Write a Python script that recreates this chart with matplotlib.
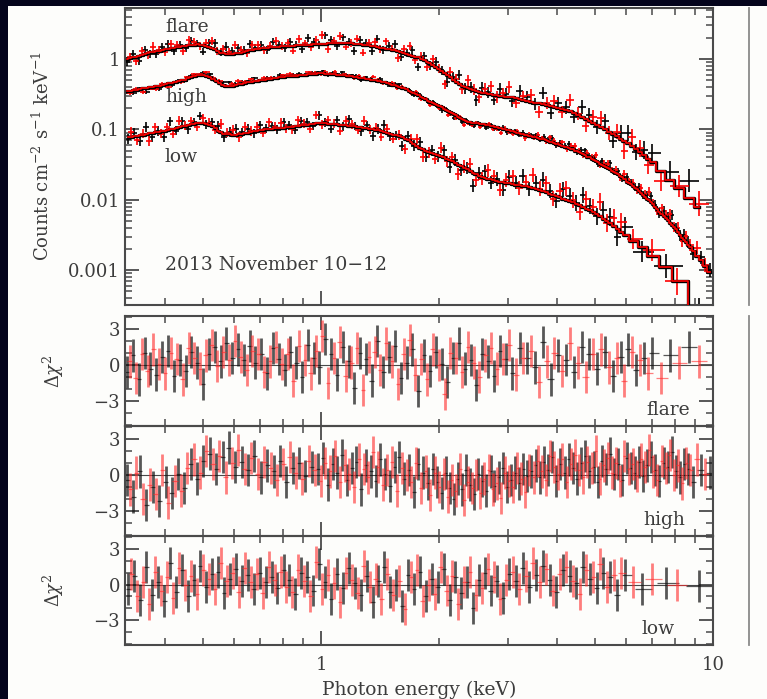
import numpy as np
import matplotlib.pyplot as plt
from matplotlib.ticker import MultipleLocator, LogLocator, NullFormatter, FuncFormatter
from matplotlib.lines import Line2D
from matplotlib.patches import Rectangle

plt.rcParams['font.family'] = ['DejaVu Serif']
plt.rcParams['mathtext.fontset'] = 'dejavuserif'

# ---- data (energy keV, model counts/cm2/s/keV, delta-chi) ----
flare_energy = [0.320, 0.331, 0.343, 0.355, 0.367, 0.380, 0.393, 0.407, 0.421, 0.436,
                0.451, 0.467, 0.483, 0.500, 0.517, 0.535, 0.554, 0.573, 0.593, 0.614,
                0.635, 0.657, 0.680, 0.704, 0.728, 0.754, 0.780,
                0.807, 0.835, 0.864, 0.894, 0.925, 0.957, 0.99, 1.025, 1.06, 1.097,
                1.135, 1.175, 1.215, 1.258, 1.301, 1.347, 1.393, 1.442, 1.492, 1.544,
                1.598, 1.653, 1.711, 1.770, 1.832, 1.895, 1.961, 2.03, 2.10, 2.17,
                2.25, 2.33, 2.41, 2.49, 2.58, 2.67, 2.76, 2.86, 2.96,
                3.07, 3.21, 3.36, 3.52, 3.68, 3.85, 4.03, 4.22, 4.42, 4.62,
                4.84, 5.06, 5.30, 5.55, 5.81, 6.08, 6.37, 6.67, 7.0, 7.35,
                7.75, 8.2, 8.7, 9.2]
flare_model = [1.00, 1.05, 1.11, 1.18, 1.24, 1.29, 1.34, 1.39, 1.44, 1.49,
               1.54, 1.59, 1.62, 1.56, 1.49, 1.38, 1.22, 1.18, 1.19, 1.21,
               1.26, 1.32, 1.38, 1.43, 1.45, 1.48, 1.50,
               1.52, 1.54, 1.56, 1.58, 1.59, 1.61, 1.63, 1.65, 1.68, 1.70,
               1.68, 1.67, 1.65, 1.63, 1.58, 1.53, 1.48, 1.43, 1.38, 1.33,
               1.25, 1.18, 1.11, 1.05, 0.97, 0.87, 0.77, 0.68, 0.59, 0.51,
               0.44, 0.40, 0.37, 0.35, 0.33, 0.32, 0.31, 0.30, 0.293,
               0.286, 0.27, 0.255, 0.24, 0.228, 0.215, 0.203, 0.19, 0.17, 0.15,
               0.133, 0.115, 0.100, 0.086, 0.074, 0.064, 0.053, 0.043, 0.034, 0.026,
               0.019, 0.0145, 0.0105, 0.0078]
flare_resid = [-0.6, 0.8, -1.2, 1.0, -0.3, -0.8, 0.7, 1.2, -0.9, 0.4,
               -0.5, 1.1, 0.2, -1.6, 0.9, 1.5, 0.3, 1.8, 0.6, 1.3,
               0.4, 1.6, 0.2, 0.9, -0.7, 1.4, 0.5,
               -0.4, 1.1, 0.2, -1.0, 1.7, 0.6, -0.2, 2.2, 0.9, -0.8,
               1.5, 0.3, -1.9, 1.0, 0.5, -1.3, 2.0, -0.6, 0.7, 1.6,
               -1.1, 0.2, 1.3, -2.2, 0.8, -0.5, 1.1, 0.1, -1.4, 0.6,
               1.8, -0.3, 0.4, -1.7, 0.9, 0.3, -0.9, 1.2, 0.5,
               -0.7, 1.4, 0.6, -0.2, 1.9, -1.2, 0.8, 0.4, -0.6, 1.5,
               0.9, -0.3, 1.1, -0.9, 0.7, 1.3, -0.4, 0.6, 1.0, -1.1,
               0.8, 0.2, 1.5, 0.3]
# bins lying between the ones above
flare_energy_mid = [0.325, 0.337, 0.349, 0.361, 0.373, 0.386, 0.400, 0.414, 0.428, 0.443,
                    0.459, 0.475, 0.491, 0.508, 0.526, 0.544, 0.563, 0.583, 0.603, 0.624,
                    0.646, 0.668, 0.692, 0.716, 0.741, 0.767, 0.793,
                    0.821, 0.849, 0.879, 0.909, 0.941, 0.973, 1.007, 1.042, 1.078, 1.116,
                    1.155, 1.195, 1.236, 1.279, 1.324, 1.370, 1.417, 1.467, 1.518, 1.571,
                    1.625, 1.682, 1.740, 1.801, 1.863, 1.928, 1.995, 2.065, 2.135, 2.21,
                    2.29, 2.37, 2.45, 2.535, 2.625, 2.715, 2.81, 2.91, 3.01,
                    3.14, 3.28, 3.44, 3.60, 3.76, 3.94, 4.12, 4.32, 4.52, 4.73,
                    4.95, 5.18, 5.42, 5.68, 5.94, 6.22, 6.52, 6.83]
flare_model_mid = [1.025, 1.08, 1.145, 1.21, 1.265, 1.315, 1.365, 1.415, 1.465, 1.515,
                   1.565, 1.605, 1.59, 1.525, 1.435, 1.30, 1.20, 1.185, 1.20, 1.235,
                   1.29, 1.35, 1.405, 1.44, 1.465, 1.49, 1.51,
                   1.53, 1.55, 1.57, 1.585, 1.60, 1.62, 1.64, 1.665, 1.69, 1.69,
                   1.675, 1.66, 1.64, 1.605, 1.555, 1.505, 1.455, 1.405, 1.355, 1.29,
                   1.215, 1.145, 1.08, 1.01, 0.92, 0.82, 0.725, 0.635, 0.55, 0.475,
                   0.42, 0.385, 0.36, 0.34, 0.325, 0.315, 0.305, 0.297, 0.29,
                   0.278, 0.262, 0.247, 0.234, 0.221, 0.209, 0.197, 0.18, 0.16, 0.141,
                   0.124, 0.107, 0.093, 0.080, 0.069, 0.058, 0.048, 0.038]
flare_resid_mid = [0.3, -1.1, 0.9, -0.5, 1.3, 0.1, -0.7, 1.0, 0.5, -1.2,
                   1.4, 0.6, -0.3, 0.8, 1.7, -0.1, 1.1, 0.4, 2.0, 0.7,
                   -0.4, 1.2, 0.9, -0.6, 0.3, 1.5, 0.1,
                   0.9, -1.3, 1.6, 0.4, -0.7, 1.2, 2.4, -1.5, 0.6, 1.9,
                   -0.9, 0.2, 1.4, -2.1, 0.7, 1.1, -0.4, 1.8, 0.3, -1.6,
                   0.9, 2.1, -0.8, 0.5, -1.2, 1.3, 0.0, -2.4, 1.0, 0.6,
                   -0.6, 1.5, 0.2, -1.0, 0.8, 1.4, -0.3, 0.5, 1.7,
                   -0.8, 0.6, 1.2, -1.4, 0.3, 1.0, -0.5, 1.8, 0.2, -1.0,
                   0.9, 1.3, -0.2, 0.6, -1.3, 1.1, 0.4, -0.7]

high_energy = [0.320, 0.332, 0.345, 0.358, 0.372, 0.386, 0.401, 0.416, 0.432, 0.448,
               0.465, 0.483, 0.501, 0.520, 0.540, 0.561, 0.582, 0.604, 0.627, 0.651,
               0.676, 0.702, 0.729, 0.757, 0.786, 0.816, 0.847, 0.879, 0.912, 0.947,
               0.983, 1.011, 1.040, 1.070, 1.100, 1.132, 1.164, 1.197, 1.231, 1.266,
               1.302, 1.339, 1.377, 1.416, 1.456, 1.498, 1.540, 1.584, 1.629, 1.675,
               1.723, 1.772, 1.822, 1.874, 1.927,
               1.98, 2.03, 2.08, 2.13, 2.18, 2.23, 2.29, 2.34, 2.40, 2.46,
               2.52, 2.58, 2.64, 2.71, 2.77, 2.84, 2.91, 2.98, 3.05, 3.13,
               3.20, 3.28, 3.36, 3.44, 3.53, 3.61, 3.70, 3.79, 3.89, 3.98,
               4.08, 4.18, 4.28, 4.39, 4.50, 4.61, 4.72, 4.84, 4.96, 5.08,
               5.20, 5.33, 5.46, 5.59, 5.73, 5.87, 6.02, 6.16, 6.31, 6.47,
               6.63, 6.79, 6.96, 7.13, 7.30, 7.48, 7.67, 7.85, 8.05, 8.24,
               8.45, 8.65, 8.87, 9.30, 9.80]
high_model = [0.35, 0.36, 0.375, 0.39, 0.40, 0.42, 0.44, 0.46, 0.485, 0.51,
              0.55, 0.59, 0.60, 0.555, 0.48, 0.43, 0.41, 0.425, 0.445, 0.47,
              0.485, 0.50, 0.515, 0.535, 0.555, 0.565, 0.575, 0.59, 0.60, 0.615,
              0.63, 0.625, 0.615, 0.605, 0.60, 0.59, 0.58, 0.565, 0.55, 0.535,
              0.525, 0.51, 0.50, 0.485, 0.465, 0.44, 0.425, 0.40, 0.385, 0.355,
              0.33, 0.305, 0.28, 0.255, 0.235,
              0.22, 0.205, 0.19, 0.177, 0.165, 0.152, 0.14, 0.131, 0.126, 0.125,
              0.123, 0.12, 0.117, 0.113, 0.109, 0.105, 0.101, 0.099, 0.096, 0.092,
              0.089, 0.086, 0.083, 0.080, 0.077, 0.074, 0.072, 0.069, 0.066, 0.063,
              0.060, 0.057, 0.055, 0.052, 0.049, 0.046, 0.043, 0.040, 0.037, 0.034,
              0.031, 0.029, 0.027, 0.025, 0.023, 0.021, 0.018, 0.0165, 0.0148, 0.0132,
              0.0118, 0.0104, 0.0092, 0.0080, 0.0068, 0.0059, 0.0051, 0.0044, 0.0038, 0.0032,
              0.0027, 0.0023, 0.0019, 0.0014, 0.00095]
high_resid = [-0.4, -1.8, 0.3, -2.5, -1.0, -2.2, -0.6, -1.5, 0.1, -1.1,
              0.9, -0.3, 1.2, 1.8, 0.5, 1.5, 2.3, 0.7, 1.1, 0.4,
              1.6, -0.2, 0.8, 0.3, 1.2, -0.6, 0.6, 1.0, -0.1, 0.7,
              0.5, 1.4, -0.8, 0.9, 0.2, 1.7, -0.4, 0.6, 1.1, -1.2,
              0.8, 0.3, -0.5, 1.3, 0.1, -0.9, 0.7, 1.5, -0.3, 0.4,
              -1.4, 0.9, 0.2, -0.7, 0.5,
              -0.6, -1.5, 0.2, -1.1, -2.0, -0.3, -1.2, 0.4, -0.8, -1.6,
              0.1, -0.5, -1.3, 0.3, -0.9, -0.2, 0.6, -1.0, -0.4, 0.2,
              -0.7, 0.5, -0.1, 0.3, 0.8, -0.2, 1.1, 0.4, 1.5, -0.5,
              0.9, 0.2, 1.3, 0.6, -0.3, 1.0, 1.6, 0.3, 0.7, -0.6,
              1.2, 0.5, 1.8, 0.1, 0.9, -0.4, 1.4, 0.6, 0.2, 1.1,
              -0.1, 0.8, 1.5, 0.4, -0.5, 1.0, 0.7, 1.9, 0.3, -0.2,
              0.9, 0.5, -0.6, 0.4, 0.2]
high_energy_mid = [0.326, 0.338, 0.351, 0.365, 0.379, 0.393, 0.408, 0.424, 0.440, 0.456,
                   0.474, 0.492, 0.510, 0.530, 0.550, 0.571, 0.593, 0.615, 0.639, 0.663,
                   0.689, 0.715, 0.743, 0.771, 0.801, 0.831, 0.863, 0.895, 0.929, 0.965,
                   0.997, 1.025, 1.055, 1.085, 1.116, 1.148, 1.180, 1.214, 1.248, 1.284,
                   1.320, 1.358, 1.396, 1.436, 1.477, 1.519, 1.562, 1.606, 1.652, 1.699,
                   1.747, 1.797, 1.848, 1.900, 1.953,
                   2.005, 2.055, 2.105, 2.155, 2.205, 2.26, 2.315, 2.37, 2.43, 2.49,
                   2.55, 2.61, 2.675, 2.74, 2.805, 2.875, 2.945, 3.015, 3.09, 3.165,
                   3.24, 3.32, 3.40, 3.485, 3.57, 3.655, 3.745, 3.84, 3.935, 4.03,
                   4.13, 4.23, 4.335, 4.445, 4.555, 4.665, 4.78, 4.90, 5.02, 5.14,
                   5.265, 5.395, 5.525, 5.66, 5.80, 5.945, 6.09, 6.235, 6.39, 6.55,
                   6.71, 6.875, 7.045, 7.215, 7.39, 7.575, 7.76, 7.95, 8.145, 8.345,
                   8.55, 8.76, 9.08, 9.55]
high_model_mid = [0.355, 0.368, 0.383, 0.395, 0.41, 0.43, 0.45, 0.472, 0.497, 0.53,
                  0.57, 0.60, 0.58, 0.515, 0.452, 0.418, 0.417, 0.435, 0.457, 0.478,
                  0.492, 0.507, 0.525, 0.545, 0.56, 0.57, 0.582, 0.595, 0.607, 0.622,
                  0.628, 0.62, 0.61, 0.602, 0.595, 0.585, 0.572, 0.557, 0.542, 0.53,
                  0.517, 0.505, 0.492, 0.475, 0.452, 0.432, 0.412, 0.392, 0.37, 0.342,
                  0.317, 0.292, 0.267, 0.245, 0.227,
                  0.212, 0.197, 0.183, 0.171, 0.158, 0.146, 0.135, 0.128, 0.125, 0.124,
                  0.121, 0.118, 0.115, 0.111, 0.107, 0.103, 0.100, 0.097, 0.094, 0.090,
                  0.087, 0.084, 0.081, 0.078, 0.075, 0.073, 0.070, 0.067, 0.064, 0.061,
                  0.058, 0.056, 0.053, 0.050, 0.047, 0.044, 0.041, 0.038, 0.035, 0.032,
                  0.030, 0.028, 0.026, 0.024, 0.022, 0.0195, 0.0172, 0.0156, 0.014, 0.0125,
                  0.0111, 0.0098, 0.0086, 0.0074, 0.0063, 0.0055, 0.0047, 0.0041, 0.0035, 0.0029,
                  0.0025, 0.0021, 0.0016, 0.00115]
high_resid_mid = [-1.2, 0.2, -2.0, -0.8, -1.6, 0.4, -2.3, -0.5, -1.3, 0.6,
                  1.3, 0.2, 2.0, 0.9, 1.6, -0.2, 1.0, 2.1, 0.5, 1.4,
                  0.1, 1.1, 0.6, -0.4, 0.9, 1.5, 0.2, -0.3, 1.2, 0.4,
                  -0.5, 1.0, 0.3, 1.6, -0.6, 0.8, 0.1, -1.0, 1.3, 0.5,
                  -0.2, 1.9, 0.7, -0.8, 0.4, 1.1, -1.3, 0.6, 0.0, -0.6,
                  1.0, -1.1, 0.3, -1.7, 0.2,
                  -1.0, 0.1, -1.8, -0.4, -1.3, 0.5, -2.1, -0.6, -1.1, 0.0,
                  -1.5, -0.3, 0.4, -1.2, -0.7, -1.9, 0.2, -0.5, -1.0, 0.6,
                  -0.3, -1.4, 0.4, -0.2, 1.2, 0.3, -0.4, 1.6, 0.7, 0.1,
                  1.3, -0.6, 0.9, 1.7, 0.4, -0.2, 1.1, 0.6, 2.0, -0.3,
                  0.8, 1.4, 0.2, 1.0, -0.5, 1.6, 0.5, 0.9, -0.1, 1.3,
                  0.7, 2.1, 0.3, -0.4, 1.2, 0.6, 1.7, 0.0, 0.8, -0.7,
                  1.0, 0.4, 1.3, 0.1]

low_energy = [0.322, 0.334, 0.346, 0.358, 0.371, 0.384, 0.398, 0.412, 0.427, 0.442,
              0.458, 0.474, 0.491, 0.509, 0.527, 0.546, 0.565, 0.585, 0.606, 0.628,
              0.650, 0.673, 0.697, 0.722, 0.748, 0.774, 0.802,
              0.830, 0.860, 0.890, 0.922, 0.955, 0.989, 1.024, 1.060, 1.098, 1.137,
              1.177, 1.219, 1.262, 1.307, 1.353, 1.401, 1.451, 1.502, 1.555, 1.610,
              1.667, 1.726, 1.787, 1.850, 1.916, 1.984, 2.054, 2.127, 2.20, 2.28,
              2.36, 2.44, 2.53, 2.62, 2.71, 2.81, 2.91,
              3.02, 3.14, 3.27, 3.40, 3.54, 3.68, 3.83, 3.98, 4.14, 4.31,
              4.48, 4.66, 4.85, 5.05, 5.25, 5.46, 5.70, 5.95, 6.25, 6.6,
              7.0, 7.6, 8.1, 9.2]
low_model = [0.078, 0.080, 0.083, 0.086, 0.089, 0.092, 0.096, 0.100, 0.105, 0.110,
             0.115, 0.120, 0.124, 0.120, 0.112, 0.096, 0.086, 0.085, 0.084, 0.087,
             0.090, 0.094, 0.098, 0.100, 0.102, 0.104, 0.106,
             0.108, 0.111, 0.114, 0.117, 0.120, 0.124, 0.122, 0.120, 0.118, 0.116,
             0.113, 0.110, 0.107, 0.104, 0.100, 0.097, 0.092, 0.087, 0.082, 0.077,
             0.071, 0.063, 0.055, 0.049, 0.046, 0.043, 0.040, 0.037, 0.033, 0.030,
             0.027, 0.024, 0.022, 0.0205, 0.0195, 0.0185, 0.0178,
             0.0172, 0.0164, 0.0158, 0.0151, 0.0142, 0.0133, 0.0121, 0.0112, 0.0104, 0.0096,
             0.0087, 0.0079, 0.0071, 0.0063, 0.0054, 0.0047, 0.0039, 0.0032, 0.0026, 0.0021,
             0.0016, 0.0011, 0.0007, 0.00025]
low_resid = [-0.4, 0.7, -1.3, 1.5, -0.9, 0.2, -1.4, 1.8, -0.6, 1.2,
             -1.0, 0.4, 1.6, -0.2, 0.9, 1.1, -0.7, 0.5, 1.3, 0.3,
             0.8, -0.4, 1.0, 0.2, 0.6, -0.3, 1.2,
             0.4, -0.8, 1.0, 0.6, -0.5, 1.7, 0.2, -1.2, 0.9, -0.3,
             1.4, 0.1, -0.9, 0.7, -1.5, 0.3, 1.5, -0.6, 0.0, -1.8,
             0.8, -0.4, 1.1, -1.0, 0.5, -0.2, 1.3, -1.3, 0.6, -0.7,
             0.2, -2.0, 0.4, 1.0, -0.5, 0.3, -1.1,
             0.9, 0.3, 1.4, -0.2, 0.8, 1.6, 0.4, -0.6, 1.2, 0.7,
             0.1, 1.5, 0.5, -0.3, 1.0, 0.6, -0.9, 0.8, 0.2, -0.4,
             0.5, 0.1, 0.0, -0.1]
low_energy_mid = [0.328, 0.340, 0.352, 0.364, 0.377, 0.391, 0.405, 0.419, 0.434, 0.450,
                  0.466, 0.482, 0.500, 0.518, 0.536, 0.555, 0.575, 0.595, 0.617, 0.639,
                  0.661, 0.685, 0.709, 0.735, 0.761, 0.788, 0.816,
                  0.845, 0.875, 0.906, 0.938, 0.972, 1.006, 1.042, 1.079, 1.117, 1.157,
                  1.198, 1.240, 1.284, 1.330, 1.377, 1.426, 1.476, 1.528, 1.582, 1.638,
                  1.696, 1.756, 1.818, 1.883, 1.950, 2.019, 2.090, 2.163, 2.24, 2.32,
                  2.40, 2.485, 2.575, 2.665, 2.76, 2.86, 2.965,
                  3.08, 3.205, 3.335, 3.47, 3.61, 3.755, 3.905, 4.06, 4.225, 4.395,
                  4.57, 4.755, 4.95, 5.15, 5.355, 5.58, 5.82]
low_model_mid = [0.079, 0.0815, 0.0845, 0.0875, 0.0905, 0.094, 0.098, 0.1025, 0.1075, 0.1125,
                 0.1175, 0.122, 0.122, 0.116, 0.104, 0.091, 0.0855, 0.0845, 0.0855, 0.0885,
                 0.092, 0.096, 0.099, 0.101, 0.103, 0.105, 0.107,
                 0.1095, 0.1125, 0.1155, 0.1185, 0.122, 0.123, 0.121, 0.119, 0.117, 0.1145,
                 0.1115, 0.1085, 0.1055, 0.102, 0.0985, 0.0945, 0.0895, 0.0845, 0.0795, 0.074,
                 0.067, 0.059, 0.052, 0.0475, 0.0445, 0.0415, 0.0385, 0.035, 0.0315, 0.0285,
                 0.0255, 0.023, 0.0212, 0.020, 0.019, 0.0181, 0.0175,
                 0.0168, 0.0161, 0.0155, 0.0147, 0.0138, 0.0127, 0.0117, 0.0108, 0.0100, 0.0092,
                 0.0083, 0.0075, 0.0067, 0.0058, 0.0050, 0.0043, 0.0035]
low_resid_mid = [0.9, -1.0, 0.2, -1.6, 1.1, -0.5, 0.6, -1.1, 1.4, 0.0,
                 0.7, -0.8, 1.2, 0.5, -0.4, 1.8, 0.3, 1.0, -0.6, 1.4,
                 0.2, 0.9, -0.7, 1.5, 0.4, 1.1, -0.2,
                 -0.6, 1.2, 0.3, -1.0, 1.9, -0.4, 0.8, 0.1, -1.5, 1.0,
                 0.4, -0.7, 1.6, -0.2, 0.5, -1.2, 0.9, -0.9, 0.3, -2.1,
                 0.6, 1.2, -1.4, 0.0, -0.8, 1.5, -0.5, 0.7, -1.6, 0.2,
                 1.1, -0.9, -0.3, 1.3, 0.6, -1.2, 0.4,
                 1.1, -0.4, 0.7, 1.8, 0.2, 1.3, -0.5, 0.9, 1.5, 0.3,
                 -0.8, 1.2, 0.6, 1.7, -0.2, 0.8, 1.0]

# fractional error of the spectral points at the first bin, per state
flare_err = 0.15
high_err = 0.06
low_err = 0.17

states = [('flare', flare_energy + flare_energy_mid, flare_model + flare_model_mid,
           flare_resid + flare_resid_mid, flare_err),
          ('high', high_energy + high_energy_mid, high_model + high_model_mid,
           high_resid + high_resid_mid, high_err),
          ('low', low_energy + low_energy_mid, low_model + low_model_mid,
           low_resid + low_resid_mid, low_err)]

W, H = 767, 699
fig = plt.figure(figsize=(W / 100, H / 100), dpi=100, facecolor='#04041c')
fig.patches.append(Rectangle((8 / W, 0), 1, 1 - 6 / H, transform=fig.transFigure,
                             facecolor='#fdfdfb', edgecolor='none', zorder=-10))


def box(top, bottom):
    return [125 / W, 1 - bottom / H, 588 / W, (bottom - top) / H]


ax0 = fig.add_axes(box(8, 305))
res_axes = [fig.add_axes(box(316, 426)), fig.add_axes(box(426, 536)), fig.add_axes(box(536, 645))]

gray = '#4a4a4a'


def half_widths(e):
    le = np.log10(e)
    mid = (le[1:] + le[:-1]) / 2
    lo = np.concatenate([[2 * le[0] - mid[0]], mid])
    hi = np.concatenate([mid, [2 * le[-1] - mid[-1]]])
    return e - 10 ** lo, 10 ** hi - e


def sorted_state(E, M, R):
    E, M, R = np.array(E), np.array(M), np.array(R)
    o = np.argsort(E)
    return E[o], M[o], R[o]


# the two instruments take alternate bins
inst = [(slice(0, None, 2), 'black', '#111111', 0.7), (slice(1, None, 2), 'red', '#ff2a2a', 0.6)]

for name, E, M, R, f0 in states:
    E, M, R = sorted_state(E, M, R)
    frac = np.minimum(f0 * (M / M[0]) ** -0.25, 0.8)
    D = M * (1 + frac) ** R
    for sl, col, _, _ in inst:
        e = E[sl]
        xl, xh = half_widths(e)
        d = D[sl]
        yl = d - d / (1 + frac[sl])
        yh = d * frac[sl]
        ax0.errorbar(e, d, xerr=[xl, xh], yerr=[yl, yh], fmt='none', ecolor=col,
                     elinewidth=1.2, capsize=0, zorder=2 if col == 'black' else 3)
    ax0.step(E, M, where='mid', color='black', lw=2.4, zorder=4)
    ax0.step(E, M, where='mid', color='red', lw=1.2, zorder=5)

for ax, (name, E, M, R, f0) in zip(res_axes, states):
    E, M, R = sorted_state(E, M, R)
    ax.axhline(0, color=gray, lw=0.8, zorder=1)
    for sl, _, col, a in inst:
        e = E[sl]
        xl, xh = half_widths(e)
        ax.errorbar(e, R[sl], yerr=1.35, fmt='none', ecolor=col,
                    elinewidth=2.0, capsize=0, alpha=a, zorder=2)
        ax.errorbar(e, R[sl], xerr=[xl * 0.8, xh * 0.8], fmt='none', ecolor=col,
                    elinewidth=0.9, capsize=0, alpha=a, zorder=2)
    ax.set_ylim(-5.1, 4.1)
    ax.yaxis.set_major_locator(MultipleLocator(3))
    ax.yaxis.set_minor_locator(MultipleLocator(1))

for ax in [ax0] + res_axes:
    ax.set_xscale('log')
    ax.set_xlim(0.316, 10)
    ax.set_facecolor('none')
    for s in ax.spines.values():
        s.set_color(gray)
        s.set_linewidth(1.5)
    ax.xaxis.set_major_locator(LogLocator(base=10))
    ax.xaxis.set_minor_locator(LogLocator(base=10, subs=np.arange(2, 10)))
    ax.xaxis.set_minor_formatter(NullFormatter())
    ax.tick_params(which='both', direction='in', top=True, right=True, color=gray,
                   labelcolor='#3c3c3c', labelsize=13)
    ax.tick_params(which='major', length=10, width=1.3)
    ax.tick_params(which='minor', length=5, width=1.1)
    ax.tick_params(axis='x', pad=8)

for ax in [ax0] + res_axes[:2]:
    ax.xaxis.set_major_formatter(NullFormatter())
res_axes[2].xaxis.set_major_formatter(FuncFormatter(lambda v, p: '%g' % v))

ax0.set_yscale('log')
ax0.set_ylim(3.2e-4, 5.3)
ax0.yaxis.set_major_locator(LogLocator(base=10))
ax0.yaxis.set_minor_locator(LogLocator(base=10, subs=np.arange(2, 10)))
ax0.yaxis.set_minor_formatter(NullFormatter())
ax0.yaxis.set_major_formatter(FuncFormatter(lambda v, p: '%g' % v))

tc = '#3c3c3c'
ax0.set_ylabel('Counts cm$^{-2}$ s$^{-1}$ keV$^{-1}$', fontsize=13, color=tc)
ax0.yaxis.set_label_coords(-0.122, 0.5)
for ax in (res_axes[0], res_axes[2]):
    ax.set_ylabel(r'$\Delta\chi^2$', fontsize=13, color=tc)
    ax.yaxis.set_label_coords(-0.10, 0.5)
res_axes[2].set_xlabel('Photon energy (keV)', fontsize=13.5, color=tc)
res_axes[2].xaxis.set_label_coords(0.5, -0.33)

txt = dict(fontsize=13.5, color=tc)
ax0.text(0.068, 0.936, 'flare', transform=ax0.transAxes, va='center', **txt)
ax0.text(0.068, 0.70, 'high', transform=ax0.transAxes, va='center', **txt)
ax0.text(0.068, 0.498, 'low', transform=ax0.transAxes, va='center', **txt)
ax0.text(0.068, 0.135, '2013 November 10\u221212', transform=ax0.transAxes, va='center', **txt)
for ax, lab, xr in zip(res_axes, ['flare', 'high', 'low'], [0.961, 0.952, 0.935]):
    ax.text(xr, 0.145, lab, transform=ax.transAxes, ha='right', va='center', **txt)

# edge of the neighbouring panel, cut off at the right
fig.add_artist(Line2D([749 / W, 749 / W], [1 - 8 / H, 1 - 305 / H], color='#8a8a8a', lw=1.3))
fig.add_artist(Line2D([749 / W, 749 / W], [1 - 316 / H, 1 - 645 / H], color='#8a8a8a', lw=1.3))

fig.savefig('out.png', dpi=100, facecolor=fig.get_facecolor())
